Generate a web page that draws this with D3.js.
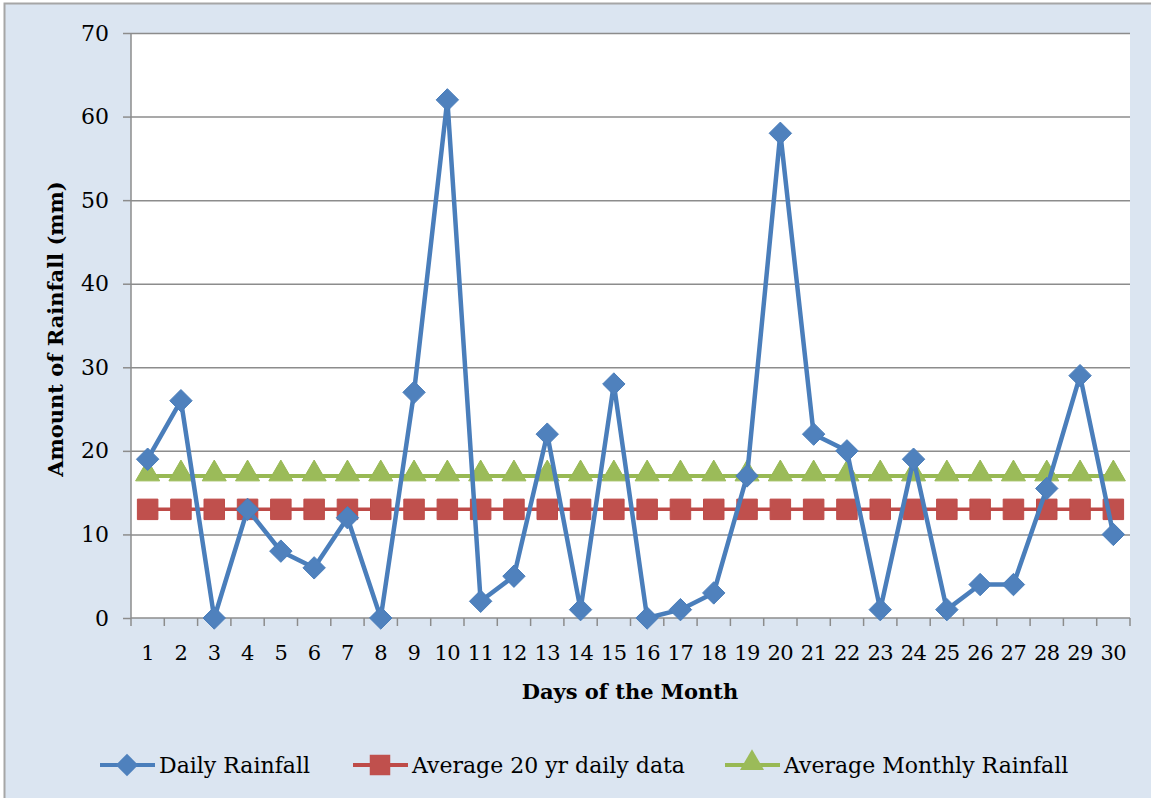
<!DOCTYPE html>
<html>
<head>
<meta charset="utf-8">
<script src="https://cdn.jsdelivr.net/npm/d3@7"></script>
<style>
  body { margin: 0; background: #fff; }
  svg { display: block; }
  text { font-family: "DejaVu Serif", "Liberation Serif", serif; fill: #000; }
</style>
</head>
<body>
<svg id="chart" width="1151" height="798"></svg>
<script>
// Days of the month on the x axis
const days = d3.range(1, 31).map(String);
// Daily rainfall (mm)
const dailyRainfall = [19, 26, 0, 13, 8, 6, 12, 0, 27, 62, 2, 5, 22, 1, 28, 0, 1, 3, 17, 58, 22, 20, 1, 19, 1, 4, 4, 15.5, 29, 10];
const avg20yr = days.map(() => 13);
const avgMonthly = days.map(() => 17);
const yTicks = [0, 10, 20, 30, 40, 50, 60, 70];

const seriesNames = ["Daily Rainfall", "Average 20 yr daily data", "Average Monthly Rainfall"];

const W = 1151, H = 798;
const margin = {left: 131, right: 21, top: 33, bottom: 180};

const svg = d3.select("#chart");

// chart frame
svg.append("rect")
  .attr("x", 4.5).attr("y", 3.5)
  .attr("width", W + 10).attr("height", H + 10)
  .style("fill", "#dbe5f1")
  .style("stroke", "#a6a6a6")
  .style("stroke-width", 2);

const x = d3.scaleBand().domain(days).range([margin.left, W - margin.right]);
const y = d3.scaleLinear().domain([0, 70]).range([H - margin.bottom, margin.top]);

// plot area
svg.append("rect")
  .attr("x", x.range()[0]).attr("y", y(70))
  .attr("width", x.range()[1] - x.range()[0])
  .attr("height", y(0) - y(70))
  .style("fill", "#fff");

// gridlines
svg.append("g").selectAll("line")
  .data(yTicks.filter(d => d > 0))
  .enter().append("line")
  .attr("x1", x.range()[0]).attr("x2", x.range()[1])
  .attr("y1", d => y(d) + 0.5).attr("y2", d => y(d) + 0.5)
  .style("stroke", "#8c8c8c").style("stroke-width", 1.5);

// y axis
const yAxis = svg.append("g")
  .attr("transform", `translate(${x.range()[0]},0)`)
  .call(d3.axisLeft(y).tickValues(yTicks).tickSize(8).tickPadding(14));
yAxis.selectAll("line, path").style("stroke", "#8c8c8c").style("stroke-width", 1.5);
yAxis.select(".domain").attr("d", `M0,${y(70)}V${y(0)}`);
yAxis.selectAll("text").style("font-size", "22px").style("font-family", "DejaVu Serif");

// x axis, ticks at category boundaries
const xAxis = svg.append("g").attr("transform", `translate(0,${y(0)})`);
xAxis.append("line")
  .attr("x1", x.range()[0]).attr("x2", x.range()[1])
  .style("stroke", "#8c8c8c").style("stroke-width", 1.5);
xAxis.selectAll(".tk")
  .data(days.concat(["end"]))
  .enter().append("line")
  .attr("x1", (d, i) => x.range()[0] + i * x.step())
  .attr("x2", (d, i) => x.range()[0] + i * x.step())
  .attr("y1", 0).attr("y2", 8)
  .style("stroke", "#8c8c8c").style("stroke-width", 1.5);
xAxis.selectAll("text")
  .data(days)
  .enter().append("text")
  .attr("x", d => x(d) + x.bandwidth() / 2)
  .attr("y", 42)
  .attr("text-anchor", "middle")
  .style("font-size", "21px")
  .style("letter-spacing", "-0.5px")
  .text(d => d);

// axis titles
svg.append("text")
  .attr("x", 630).attr("y", 699)
  .attr("text-anchor", "middle")
  .style("font-size", "21px").style("font-weight", "bold")
  .text("Days of the Month");

svg.append("text")
  .attr("transform", "translate(63,329) rotate(-90)")
  .attr("text-anchor", "middle")
  .style("font-size", "21px").style("font-weight", "bold")
  .text("Amount of Rainfall (mm)");

const cx = d => x(d) + x.bandwidth() / 2;
const line = d3.line().x((d, i) => cx(days[i])).y(d => y(d));

const diamond = d3.symbol().type(d3.symbolDiamond2).size(320);
const square = d3.symbol().type(d3.symbolSquare).size(420);
const triangle = d3.symbol().type(d3.symbolTriangle).size(250);

// Average 20 yr daily data (red squares)
svg.append("path").datum(avg20yr)
  .attr("d", line).style("fill", "none")
  .style("stroke", "#be4b48").style("stroke-width", 3.5);
svg.append("g").selectAll("path").data(avg20yr).enter().append("path")
  .attr("transform", (d, i) => `translate(${cx(days[i])},${y(d)})`)
  .attr("d", square)
  .style("fill", "#c0504d").style("stroke", "#be4b48").style("stroke-width", 1);

// Average Monthly Rainfall (green triangles)
svg.append("path").datum(avgMonthly)
  .attr("d", line).style("fill", "none")
  .style("stroke", "#98b954").style("stroke-width", 4);
svg.append("g").selectAll("path").data(avgMonthly).enter().append("path")
  .attr("transform", (d, i) => `translate(${cx(days[i])},${y(d) - 2})`)
  .attr("d", triangle)
  .style("fill", "#9bbb59").style("stroke", "#98b954").style("stroke-width", 1);

// Daily Rainfall (blue diamonds)
svg.append("path").datum(dailyRainfall)
  .attr("d", line).style("fill", "none")
  .style("stroke", "#4a7ebb").style("stroke-width", 4.5)
  .style("stroke-linejoin", "round");
svg.append("g").selectAll("path").data(dailyRainfall).enter().append("path")
  .attr("transform", (d, i) => `translate(${cx(days[i])},${y(d)})`)
  .attr("d", diamond)
  .style("fill", "#4f81bd").style("stroke", "#4a7ebb").style("stroke-width", 1);

// legend
const legendX = [100, 353, 725];
const legendY = 765;
const legendStyles = [
  {stroke: "#4a7ebb", fill: "#4f81bd", sym: diamond, dy: 0},
  {stroke: "#be4b48", fill: "#c0504d", sym: square, dy: 0},
  {stroke: "#98b954", fill: "#9bbb59", sym: triangle, dy: -2}
];
const legend = svg.append("g").selectAll("g").data(seriesNames).enter().append("g")
  .attr("transform", (d, i) => `translate(${legendX[i]},${legendY})`);
legend.append("line")
  .attr("x1", 0).attr("x2", 55)
  .style("stroke", (d, i) => legendStyles[i].stroke).style("stroke-width", 4);
legend.append("path")
  .attr("transform", (d, i) => `translate(27,${legendStyles[i].dy})`)
  .attr("d", (d, i) => legendStyles[i].sym())
  .style("fill", (d, i) => legendStyles[i].fill);
legend.append("text")
  .attr("x", 59).attr("y", 8)
  .style("font-size", "22px")
  .text(d => d);
</script>
</body>
</html>
